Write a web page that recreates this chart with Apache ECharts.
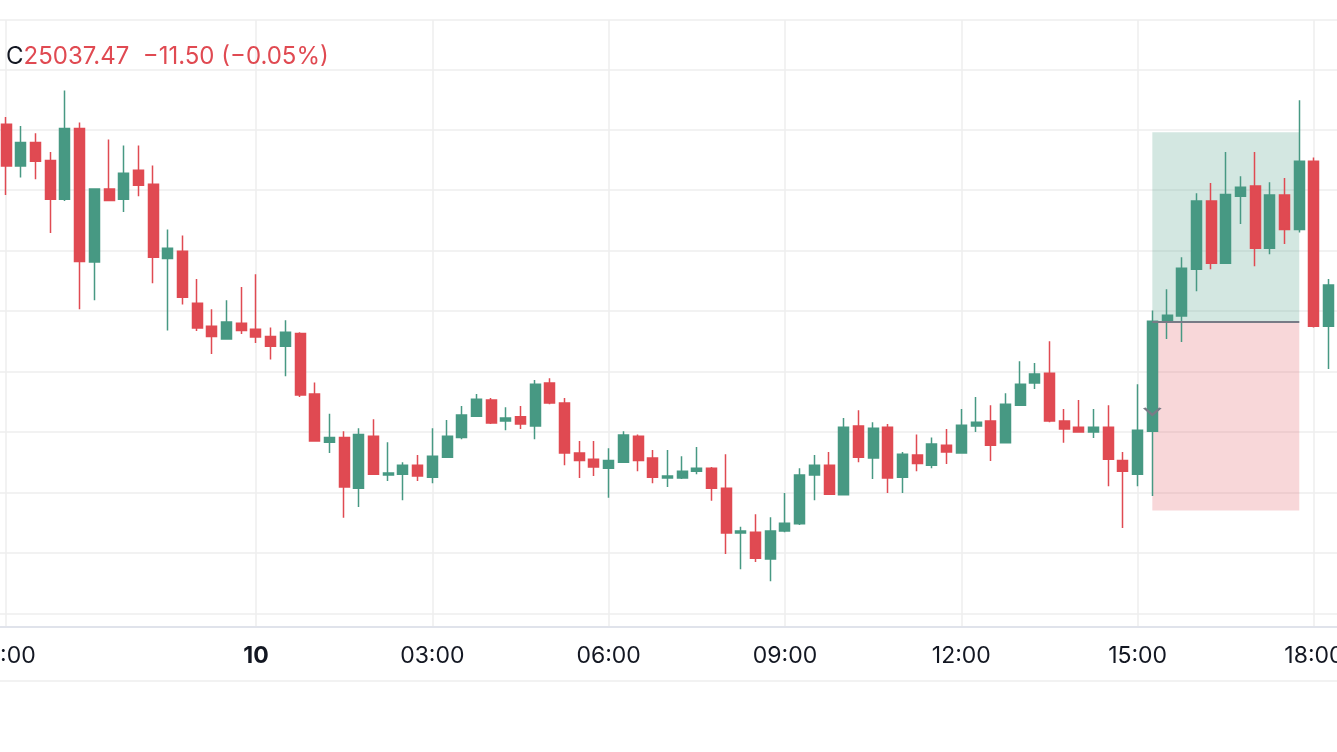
<!DOCTYPE html>
<html>
<head>
<meta charset="utf-8">
<script src="https://cdn.jsdelivr.net/npm/echarts@6/dist/echarts.min.js"></script>
<style>
html,body{margin:0;padding:0;background:#ffffff;}
#chart{width:1337px;height:752px;}
</style>
</head>
<body>
<div id="chart"></div>
<script>
// 15-minute bars (index 0 .. 90), one extra clipped slot at the right edge
const opens = [25127.25,25110.00,25119.75,25112.25,25096.25,25125.50,25070.25,25100.50,25096.25,25108.25,
25102.50,25071.75,25074.75,25053.25,25043.75,25038.50,25045.00,25042.50,25039.50,25035.50,
25040.75,25015.75,24995.75,24997.75,24976.75,24998.25,24982.25,24982.50,24986.25,24981.25,
24989.50,24997.75,25006.50,25013.25,25004.50,25006.25,25002.50,25020.25,25012.00,24991.25,
24988.75,24985.00,24987.50,24998.25,24989.25,24981.00,24981.00,24983.75,24985.00,24976.75,
24958.25,24958.50,24947.50,24959.00,24962.00,24982.25,24986.25,24974.00,25002.50,24989.25,
25002.00,24981.25,24990.50,24986.25,24994.50,24991.25,25002.50,25004.50,24995.50,25011.00,
25020.25,25024.25,25004.50,25002.00,25000.00,25002.00,24988.25,24982.50,25000.25,25045.75,
25048.00,25067.25,25095.50,25069.75,25097.50,25101.75,25076.00,25098.00,25083.75,25112.00,
25043.75];
const closes = [25110.00,25119.75,25112.00,25096.25,25125.50,25070.50,25100.50,25095.75,25107.00,25102.00,
25072.25,25076.00,25055.75,25043.00,25039.50,25045.50,25042.00,25039.25,25035.50,25041.25,
25015.25,24996.25,24997.75,24977.25,24999.00,24982.50,24983.00,24986.25,24981.75,24990.00,
24998.25,25007.00,25013.50,25003.75,25005.75,25003.25,25019.75,25012.00,24991.25,24988.25,
24985.50,24988.25,24998.75,24988.25,24981.25,24981.75,24983.75,24985.00,24976.75,24958.25,
24959.00,24947.75,24959.00,24962.25,24982.25,24986.25,24974.25,25002.00,24989.50,25001.50,
24981.00,24990.75,24987.00,24995.00,24991.75,25002.75,25004.00,24994.50,25011.50,25019.75,
25024.00,25004.50,25001.25,25000.00,25002.00,24988.75,24983.75,25000.75,25045.75,25048.25,
25067.75,25095.50,25069.75,25098.25,25101.25,25076.00,25098.00,25083.75,25112.00,25043.75,
25060.75];
const lows = [25098.00,25105.25,25104.50,25082.25,25095.50,25050.75,25054.50,25095.75,25091.00,25097.50,
25061.50,25042.00,25052.75,25041.75,25032.25,25038.25,25040.50,25036.75,25030.00,25023.00,
25014.50,24996.25,24991.25,24964.50,24969.00,24982.50,24979.75,24971.75,24979.75,24978.75,
24989.25,24997.00,25006.50,25003.25,25000.75,25001.25,24997.00,25011.50,24986.25,24981.00,
24981.75,24972.75,24987.50,24983.75,24978.75,24977.25,24980.50,24982.50,24971.50,24949.50,
24943.25,24946.25,24938.25,24958.50,24961.50,24971.75,24974.25,24974.00,24987.50,24980.50,
24974.75,24974.75,24983.75,24985.00,24986.75,24991.25,25000.00,24988.00,24995.50,25010.75,
25017.75,25004.00,24995.50,25000.00,24997.50,24977.50,24960.25,24977.50,24973.50,25038.50,
25037.25,25058.25,25067.25,25069.75,25086.00,25068.50,25073.50,25077.75,25082.50,25043.25,
25026.00];
const highs = [25130.25,25126.50,25123.50,25115.75,25141.25,25128.00,25100.50,25121.00,25118.50,25118.50,
25110.25,25083.75,25081.25,25063.25,25050.75,25054.50,25060.00,25065.25,25043.25,25046.25,
25041.25,25020.50,25007.50,25000.25,25001.50,25005.25,24995.75,24987.50,24990.50,25001.50,
25005.00,25010.75,25015.75,25014.00,25010.25,25010.75,25021.50,25022.25,25014.00,24996.25,
24996.25,24993.25,25000.25,24999.00,24992.50,24992.50,24990.00,24993.75,24985.50,24990.75,
24960.75,24966.00,24964.75,24974.75,24985.00,24990.50,24991.75,25005.75,25009.00,25004.00,
25003.25,24991.75,24999.00,24997.75,25001.25,25009.50,25014.50,25011.00,25016.00,25029.25,
25028.50,25037.50,25009.50,25013.25,25009.50,25011.00,24991.75,25019.75,25050.25,25059.00,
25072.25,25098.75,25103.00,25115.75,25105.75,25115.75,25103.25,25105.00,25137.25,25113.50,
25063.25];

// time axis labels (bar index -> text)
const tickIndex = [0, 17, 29, 41, 53, 65, 77, 89];
const tickText  = ['21:00', '10', '03:00', '06:00', '09:00', '12:00', '15:00', '18:00'];
const boldTicks = ['10'];

// price grid
const priceMin = 24925, priceMax = 25150, priceStep = 25;

// long position tool
const posStart = 78, posEnd = 88;
const posEntry = 25045.75, posTarget = 25124.0, posStop = 24967.5;
const execMarkPrice = 25008.5;

// header
const lastClose = 25037.47, lastChange = -11.50, lastChangePct = -0.05;

const UP = '#479983', DOWN = '#e04a52';
const barCount = opens.length + 1; // one extra clipped slot
const cats = [];
for (let i = 0; i < barCount; i++) cats.push(String(i));
const catsB = ['start'].concat(cats);

const candleData = [];
for (let i = 0; i < barCount; i++) {
  if (i < opens.length) candleData.push([opens[i], closes[i], lows[i], highs[i]]);
  else candleData.push('-');
}

const BW = 14.694;
const FIRST_X = 6.2;
const leftA = FIRST_X - BW / 2;
const widthA = barCount * BW;
const leftB = FIRST_X - BW;
const widthB = barCount * BW;

function fmtSigned(v, d) {
  const s = Math.abs(v).toFixed(d);
  return (v < 0 ? '\u2212' : '+') + s;
}

const chart = echarts.init(document.getElementById('chart'), null, {renderer: 'canvas'});
chart.setOption({
  animation: false,
  backgroundColor: '#ffffff',
  title: {
    left: 6, top: 42, padding: 0,
    text: '{c|C}{v|' + lastClose.toFixed(2) + '  ' + fmtSigned(lastChange, 2) + ' (' + fmtSigned(lastChangePct, 2) + '%)}',
    textStyle: {
      fontWeight: 'normal',
      rich: {
        c: {fontFamily: 'Inter', fontSize: 24, fontWeight: 'normal', color: '#131722', lineHeight: 30},
        v: {fontFamily: 'Inter', fontSize: 24, fontWeight: 'normal', color: DOWN, lineHeight: 30}
      }
    }
  },
  grid: [
    {left: leftA, width: widthA, top: 69.3, height: 544, containLabel: false, outerBoundsMode: 'none'},
    {left: leftB, width: widthB, top: 20, height: 607, containLabel: false, outerBoundsMode: 'none'}
  ],
  xAxis: [
    {type: 'category', gridIndex: 0, data: cats, show: false},
    {type: 'category', gridIndex: 1, data: catsB, boundaryGap: false, position: 'bottom',
      axisLine: {show: true, lineStyle: {color: '#e0e3eb', width: 2}},
      axisTick: {show: false},
      axisLabel: {
        show: true, margin: 18, hideOverlap: false,
        interval: function (idx) { return tickIndex.indexOf(idx - 1) >= 0; },
        formatter: function (val, idx) {
          const p = tickIndex.indexOf(idx - 1);
          if (p < 0) return '';
          const t = tickText[p];
          return boldTicks.indexOf(t) >= 0 ? '{b|' + t + '}' : '{n|' + t + '}';
        },
        rich: {
          n: {fontFamily: 'Inter', fontSize: 23, color: '#131722'},
          b: {fontFamily: 'Inter', fontSize: 23, color: '#131722', fontWeight: 'bold'}
        }
      },
      splitLine: {
        show: true,
        interval: function (idx) { return tickIndex.indexOf(idx - 1) >= 0; },
        lineStyle: {color: '#eeeeee', width: 1.5}
      }
    },
    {type: 'category', gridIndex: 1, data: catsB, boundaryGap: false, position: 'top',
      axisLine: {show: true, lineStyle: {color: '#eeeeee', width: 1.5}},
      axisTick: {show: false}, axisLabel: {show: false}, splitLine: {show: false}},
    {type: 'category', gridIndex: 1, data: catsB, boundaryGap: false, position: 'bottom', offset: 54,
      axisLine: {show: true, lineStyle: {color: '#eeeeee', width: 1.5}},
      axisTick: {show: false}, axisLabel: {show: false}, splitLine: {show: false}}
  ],
  yAxis: [
    {type: 'value', gridIndex: 0, min: priceMin, max: priceMax, interval: priceStep, scale: true,
      axisLine: {show: false}, axisTick: {show: false}, axisLabel: {show: false},
      splitLine: {show: true, lineStyle: {color: '#eeeeee', width: 1.5}}},
    {type: 'value', gridIndex: 1, show: false, splitLine: {show: false}}
  ],
  series: [{
    type: 'candlestick',
    xAxisIndex: 0, yAxisIndex: 0,
    data: candleData,
    barWidth: 10.5,
    itemStyle: {color: UP, color0: DOWN, borderColor: UP, borderColor0: DOWN, borderWidth: 1.5},
    markArea: {
      silent: true,
      data: [
        [{xAxis: String(posStart), yAxis: posEntry, itemStyle: {color: 'rgba(71,153,131,0.24)'}},
         {xAxis: String(posEnd), yAxis: posTarget}],
        [{xAxis: String(posStart), yAxis: posStop, itemStyle: {color: 'rgba(224,74,82,0.22)'}},
         {xAxis: String(posEnd), yAxis: posEntry}]
      ]
    },
    markLine: {
      silent: true, symbol: ['none', 'none'], label: {show: false},
      lineStyle: {color: '#787b86', width: 2, type: 'solid'},
      data: [[{xAxis: String(posStart), yAxis: posEntry}, {xAxis: String(posEnd), yAxis: posEntry}]]
    },
    markPoint: {
      silent: true, label: {show: false},
      symbol: 'path://M0,0 L8,6 L16,0', symbolSize: [16, 7],
      itemStyle: {color: 'rgba(0,0,0,0)', borderColor: '#787b86', borderWidth: 2},
      data: [{xAxis: String(posStart), yAxis: execMarkPrice}]
    }
  }]
});
</script>
</body>
</html>
